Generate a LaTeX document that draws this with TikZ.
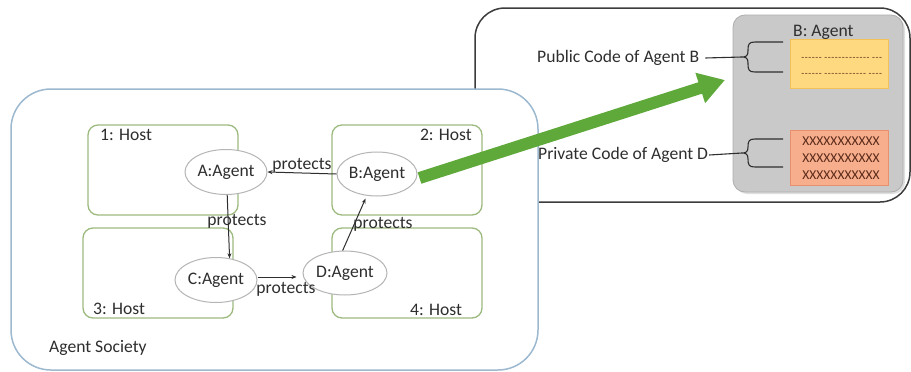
\documentclass[tikz,border=0pt]{standalone}
\usepackage{fontspec}
\setmainfont{Carlito}
\usetikzlibrary{arrows.meta,shapes.geometric,shadows}
\definecolor{txt}{HTML}{2E2E2E}
\definecolor{socc}{HTML}{9DB9CF}
\definecolor{hostc}{HTML}{9DBA7E}
\definecolor{agc}{HTML}{B5B5B5}
\definecolor{arrc}{HTML}{2E2E2E}
\definecolor{blk}{HTML}{3C3C3C}
\definecolor{grayfill}{HTML}{C9C9C9}
\definecolor{graydraw}{HTML}{ADADAD}
\definecolor{yfill}{HTML}{FFD97F}
\definecolor{ydraw}{HTML}{F2C15A}
\definecolor{ofill}{HTML}{F7AE8C}
\definecolor{odraw}{HTML}{E8906E}
\definecolor{garrow}{HTML}{5FA83A}
\definecolor{xcol}{HTML}{5A2A1A}
\newcommand\dsh[1]{\foreach \i in {1,...,#1}{-\kern0.6pt}}
\tikzset{
  hostbox/.style={draw=hostc, line width=1.3pt, rounded corners=10pt, minimum width=150pt, minimum height=90pt, inner sep=0pt},
  agent/.style={ellipse, draw=agc, line width=1pt, fill=white, minimum width=82pt, minimum height=45pt, inner sep=0pt},
  prot/.style={draw=arrc, line width=1pt, -{Stealth[length=5pt,width=4pt]}},
  lbl/.style={inner sep=0pt},
  bracepath/.style={draw=arrc, line width=1.1pt},
}
\begin{document}
\begin{tikzpicture}[x=1pt,y=-1pt, font=\fontsize{17.6}{20}\selectfont, text=txt]
\useasboundingbox (0,0) rectangle (911,372);
% right (zoom) box
\node[draw=blk, line width=1.5pt, rounded corners=30pt, minimum width=435pt, minimum height=194pt, inner sep=0pt] (zoombox) at (692.5,105) {};
% agent society box
\node[draw=socc, fill=white, line width=1.5pt, rounded corners=40pt, minimum width=527pt, minimum height=281pt, inner sep=0pt] (soc) at (274.5,229.5) {};
% hosts
\node[hostbox] (h1) at (163,170) {};
\node[hostbox] (h2) at (407,170) {};
\node[hostbox] (h3) at (158,273) {};
\node[hostbox] (h4) at (407,273) {};
\node[lbl, anchor=west] (h1l) at (100,135) {1: Host};
\node[lbl, anchor=east] (h2l) at (472,135) {2: Host};
\node[lbl, anchor=west] (h3l) at (93,309) {3: Host};
\node[lbl, anchor=west] (h4l) at (410,310) {4: Host};
\node[lbl, anchor=west] (soclbl) at (49,348) {Agent Society};
% agents
\node[agent] (A) at (226,172) {A:Agent};
\node[agent, minimum width=80pt, minimum height=44pt] (B) at (377,174) {B:Agent};
\node[agent] (C) at (216,280) {C:Agent};
\node[agent, minimum width=84pt, minimum height=44pt] (D) at (345,273) {D:Agent};
% protects connectors
\draw[prot] (B.west) -- (A.east);
\draw[prot] (A.-87) -- (C.58);
\draw[prot] ([yshift=3pt]C.east) -- ([xshift=-6pt,yshift=-4pt]D.west);
\draw[prot] (D.96) -- ([yshift=-3pt]B.-118);
\node[lbl] (pBA) at (302,165) {protects};
\node[lbl] (pAC) at (237,221) {protects};
\node[lbl] (pCD) at (286,289) {protects};
\node[lbl] (pDB) at (383,224) {protects};
% B: Agent detail
\node[draw=graydraw, fill=grayfill, line width=0.8pt, rounded corners=12pt, minimum width=170pt, minimum height=177pt, inner sep=0pt,
      drop shadow={shadow xshift=2pt, shadow yshift=-2pt, opacity=0.25}] (gbox) at (818,103.5) {};
\node[lbl, anchor=west] (bagent) at (793,32) {B: Agent};
\node[draw=ydraw, fill=yfill, line width=0.8pt, minimum width=98pt, minimum height=49pt, inner sep=0pt] (pubbox) at (839,63.5) {};
\node[draw=odraw, fill=ofill, line width=0.8pt, minimum width=98pt, minimum height=55pt, inner sep=0pt] (privbox) at (839,157.5) {};
\node[lbl, font=\fontsize{9.5}{12}\selectfont, text=xcol] (d1) at (842,59) {\dsh{6}\ \dsh{13}\ \dsh{3}};
\node[lbl, font=\fontsize{9.5}{12}\selectfont, text=xcol] (d2) at (842,75) {\dsh{6}\ \dsh{12}\ \dsh{4}};
\node[lbl, font=\fontsize{13.5}{17}\selectfont, align=center, text=xcol] (xs) at (841,158) {XXXXXXXXXXX\\XXXXXXXXXXX\\XXXXXXXXXXX};
% braces
\coordinate (pubtip) at (742,57);
\coordinate (privtip) at (742,153);
\draw[bracepath] (783,42) -- (755,42) .. controls (749,42) and (748,44) .. (748,50) -- (748,51)
  .. controls (748,56) and (746,57) .. (pubtip) .. controls (746,57) and (748,58) .. (748,63) -- (748,64)
  .. controls (748,70) and (749,72) .. (755,72) -- (783,72);
\draw[bracepath] (783,139) -- (755,139) .. controls (749,139) and (748,141) .. (748,147) -- (748,147)
  .. controls (748,152) and (746,153) .. (privtip) .. controls (746,153) and (748,154) .. (748,159) -- (748,159)
  .. controls (748,165) and (749,167) .. (755,167) -- (783,167);
\node[lbl, anchor=west] (pub) at (537,58) {Public Code of Agent B};
\node[lbl, anchor=west] (priv) at (538,155) {Private Code of Agent D};
\draw[arrc, line width=1.1pt] ([xshift=6pt]pub.east) -- (pubtip);
\draw[arrc, line width=1.1pt] ([xshift=1pt]priv.east) -- (privtip);
% green arrow
\coordinate (gtip) at (725,80);
\draw[draw=garrow, fill=garrow, line width=12pt, -{Triangle[width=30pt,length=26pt]}] ([shift={(2pt,-4pt)}]B.east) -- (gtip);
\end{tikzpicture}
\end{document}
